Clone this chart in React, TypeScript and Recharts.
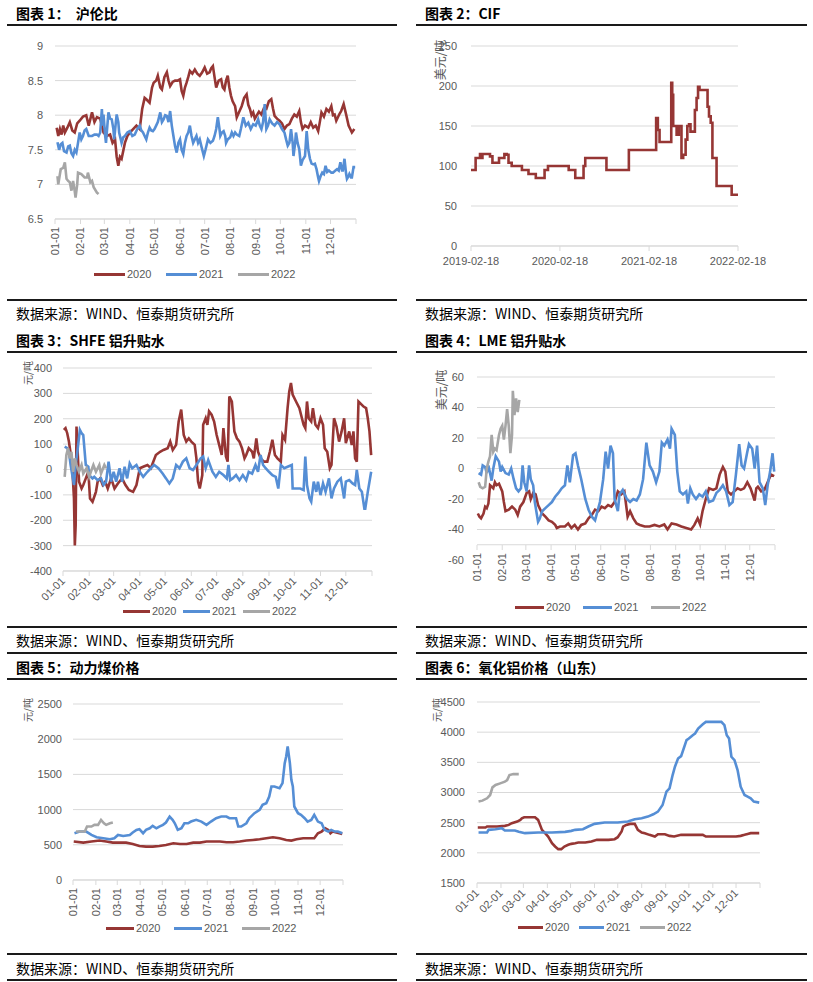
import { LineChart, Line, XAxis, YAxis, CartesianGrid, ReferenceLine } from "recharts";

type Pt = [number, number];

const RED = "#963634";
const BLUE = "#558ED5";
const GREY = "#A6A6A6";
const GRID = "#D9D9D9";
const TICK = "#595959";
const CJK = '"Noto Sans CJK SC", "Noto Sans", sans-serif';
const LATIN = '"Liberation Sans", Arial, sans-serif';

// x axis: day of year, month starts (leap year layout)
const monthTicks = [0, 31, 60, 91, 121, 152, 182, 213, 244, 274, 305, 335, 366];
const monthLabels = ["01-01", "02-01", "03-01", "04-01", "05-01", "06-01", "07-01", "08-01", "09-01", "10-01", "11-01", "12-01", ""];
const yearNames = ["2020", "2021", "2022"];

// chart 1: SHFE / LME ratio
const ratio2020: Pt[] = [[2,7.82],[4,7.7],[6,7.8],[8,7.72],[10,7.85],[12,7.75],[15,7.82],[18,7.9],[21,7.78],[24,7.75],[27,7.88],[30,7.92],[34,7.98],[38,8.0],[41,7.85],[45,8.04],[48,7.9],[51,7.97],[55,7.95],[59,7.75],[63,7.7],[67,7.72],[70,7.6],[73,7.65],[75,7.4],[77,7.27],[79,7.4],[81,7.37],[85,7.6],[88,7.7],[91,7.75],[95,7.8],[99,7.85],[103,7.8],[106,8.09],[109,8.25],[111,8.23],[115,8.18],[118,8.4],[120,8.47],[123,8.5],[125,8.57],[128,8.4],[130,8.37],[133,8.55],[136,8.62],[138,8.5],[140,8.42],[143,8.48],[146,8.5],[149,8.5],[152,8.52],[154,8.35],[156,8.28],[158,8.4],[160,8.47],[162,8.55],[164,8.64],[167,8.6],[170,8.66],[173,8.6],[176,8.57],[179,8.62],[182,8.69],[185,8.6],[188,8.62],[190,8.68],[192,8.71],[194,8.55],[196,8.4],[199,8.5],[202,8.52],[204,8.4],[206,8.37],[208,8.5],[210,8.57],[212,8.4],[214,8.28],[216,8.2],[219,8.13],[221,7.97],[224,8.05],[227,8.13],[230,8.25],[233,8.3],[235,8.15],[237,8.09],[239,8.0],[241,8.04],[243,7.95],[245,7.99],[248,8.05],[251,8.01],[254,8.1],[257,8.09],[260,8.2],[263,8.23],[265,8.1],[267,7.99],[270,7.95],[273,7.92],[276,7.88],[279,7.8],[282,7.85],[285,7.87],[288,7.95],[291,8.01],[294,7.98],[297,8.06],[299,7.9],[301,7.8],[304,7.85],[308,7.82],[311,7.9],[314,7.82],[317,7.85],[320,7.77],[322,7.9],[324,8.04],[327,7.98],[330,8.09],[333,8.05],[336,8.13],[338,8.0],[340,8.01],[342,7.92],[344,7.97],[346,8.02],[348,8.06],[351,8.16],[354,8.01],[357,7.85],[359,7.8],[361,7.75],[364,7.8]];
const ratio2021: Pt[] = [[3,7.61],[5,7.5],[7,7.58],[9,7.6],[11,7.48],[14,7.46],[16,7.55],[18,7.56],[20,7.45],[22,7.41],[24,7.5],[26,7.46],[28,7.6],[30,7.75],[32,7.65],[34,7.7],[36,7.78],[38,7.8],[41,7.7],[45,7.7],[48,7.72],[51,7.72],[53,7.7],[55,7.75],[57,8.09],[58,7.85],[59,8.01],[61,7.7],[62,7.6],[64,7.9],[65,8.04],[67,7.95],[69,7.94],[71,7.8],[72,7.65],[74,7.9],[75,8.01],[77,7.9],[78,7.75],[80,7.65],[81,7.6],[83,7.68],[85,7.7],[88,7.75],[91,7.77],[94,7.7],[97,7.72],[100,7.8],[103,7.85],[105,7.78],[107,7.75],[109,7.7],[111,7.65],[113,7.75],[115,7.82],[117,7.78],[119,7.77],[121,7.8],[123,7.85],[125,7.9],[128,8.04],[130,7.9],[132,7.94],[134,8.0],[136,7.99],[138,7.9],[140,8.06],[142,7.85],[144,7.7],[146,7.55],[148,7.46],[150,7.6],[152,7.65],[154,7.5],[156,7.44],[158,7.6],[160,7.7],[162,7.75],[164,7.85],[166,7.7],[168,7.6],[170,7.65],[172,7.7],[174,7.6],[176,7.65],[178,7.55],[181,7.41],[183,7.5],[186,7.65],[189,7.6],[192,7.63],[194,7.7],[196,7.8],[198,7.97],[200,7.8],[201,7.7],[203,7.75],[205,7.77],[207,7.7],[208,7.6],[210,7.65],[213,7.68],[215,7.75],[217,7.7],[219,7.75],[221,7.72],[224,7.7],[226,7.8],[229,7.97],[232,7.85],[235,7.89],[238,7.8],[241,7.87],[244,7.85],[247,7.94],[249,7.85],[251,7.8],[253,7.9],[255,8.16],[257,7.8],[259,7.85],[261,7.94],[264,7.88],[267,7.85],[270,7.9],[273,7.87],[276,7.8],[279,7.75],[281,7.65],[283,7.56],[285,7.6],[287,7.8],[289,7.6],[290,7.41],[292,7.6],[293,7.75],[295,7.6],[297,7.51],[299,7.27],[301,7.35],[304,7.41],[306,7.77],[308,7.5],[310,7.37],[312,7.3],[314,7.29],[316,7.3],[318,7.22],[320,7.1],[321,7.05],[323,7.12],[325,7.17],[327,7.15],[329,7.27],[331,7.18],[333,7.2],[336,7.17],[338,7.17],[341,7.2],[343,7.22],[345,7.2],[347,7.32],[349,7.2],[350,7.2],[352,7.37],[354,7.15],[355,7.08],[357,7.12],[358,7.15],[360,7.1],[361,7.1],[363,7.25],[365,7.25]];
const ratio2022: Pt[] = [[3,7.12],[4,7.0],[6,7.15],[7,7.22],[10,7.24],[12,7.32],[14,7.08],[16,7.05],[18,7.03],[20,6.91],[22,7.05],[24,6.9],[25,6.81],[27,7.0],[28,7.17],[32,7.15],[36,7.1],[39,7.1],[40,7.17],[43,7.03],[45,7.05],[47,6.96],[51,6.88],[53,6.86]];
const ratioTicks = [6.5, 7, 7.5, 8, 8.5, 9];

// chart 2: CIF premium, days since 2019-02-18
const cifPrice: Pt[] = [[0,95],[16,95],[19,110],[30,110],[37,115],[42,110],[47,115],[58,115],[78,112],[88,104],[106,104],[115,110],[126,110],[137,115],[147,114],[154,104],[167,100],[202,100],[209,95],[229,95],[236,90],[261,90],[266,85],[294,85],[302,95],[316,100],[398,100],[401,95],[421,95],[428,85],[456,85],[462,100],[469,110],[552,110],[556,95],[645,95],[648,120],[757,120],[760,160],[767,145],[774,130],[819,130],[822,204],[826,189],[830,150],[837,150],[844,139],[853,150],[860,150],[864,110],[871,114],[881,133],[888,150],[895,152],[901,143],[911,143],[919,170],[926,185],[932,199],[938,195],[967,195],[971,174],[977,162],[984,154],[991,110],[1007,110],[1008,75],[1066,75],[1070,64],[1096,64]];
const cifTicks = [0, 365, 731, 1096];
const cifLabels = ["2019-02-18", "2020-02-18", "2021-02-18", "2022-02-18"];
const cifYTicks = [0, 50, 100, 150, 200, 250];

// chart 3: SHFE premium
const shfe2020: Pt[] = [[1,156],[3,163],[5,143],[7,110],[9,64],[11,5],[13,-114],[14,-299],[15,-220],[16,169],[17,97],[19,-48],[22,-75],[24,-61],[27,-35],[30,-9],[32,-114],[35,-127],[39,-88],[41,-48],[44,-35],[47,-61],[50,-48],[53,-75],[57,-35],[61,-75],[65,-55],[70,-35],[74,-61],[78,-81],[83,-88],[87,-61],[91,5],[95,11],[100,18],[104,5],[110,57],[115,70],[119,77],[124,84],[127,110],[130,77],[134,97],[137,189],[140,236],[143,136],[146,110],[149,123],[152,110],[156,97],[158,44],[160,-48],[162,-75],[165,-22],[166,176],[169,202],[171,176],[173,229],[176,216],[179,189],[182,136],[185,97],[188,57],[190,163],[193,51],[195,31],[197,288],[200,268],[203,150],[206,123],[209,110],[212,84],[215,44],[217,57],[220,84],[224,70],[226,44],[229,123],[231,70],[234,44],[238,31],[242,31],[245,70],[248,117],[251,57],[254,44],[258,31],[260,136],[263,117],[266,242],[268,308],[270,341],[272,295],[276,268],[280,242],[283,202],[285,176],[287,163],[289,268],[291,202],[294,189],[296,242],[299,176],[302,163],[305,202],[308,176],[310,84],[313,70],[316,5],[318,18],[321,202],[324,169],[327,110],[330,150],[333,202],[335,104],[339,150],[342,97],[344,150],[346,44],[348,31],[350,268],[354,255],[356,248],[359,242],[361,202],[363,150],[365,57]];
const shfe2021: Pt[] = [[2,90],[5,84],[7,70],[9,18],[11,-22],[13,-61],[15,18],[17,70],[20,156],[22,143],[24,136],[27,18],[30,11],[31,-22],[35,-35],[37,-29],[41,-42],[45,-35],[48,-61],[51,-48],[54,31],[57,-48],[60,-9],[63,-48],[67,5],[70,-48],[73,11],[76,-35],[79,24],[82,5],[87,18],[91,-9],[95,-29],[100,-9],[104,5],[108,18],[113,5],[118,-16],[122,-35],[126,-55],[130,-35],[134,18],[138,5],[142,31],[146,44],[150,5],[154,-2],[158,18],[163,44],[166,51],[169,5],[172,37],[177,-9],[181,-29],[185,-9],[190,-22],[194,-35],[196,18],[198,-42],[201,-35],[205,-22],[209,-42],[213,-22],[217,-42],[220,-9],[224,-16],[228,18],[231,-9],[234,57],[237,18],[240,5],[244,-9],[248,-22],[252,-29],[255,-75],[258,18],[262,5],[266,11],[271,18],[272,-75],[278,-75],[281,-75],[285,-81],[287,51],[289,-61],[292,-114],[294,-127],[297,-48],[300,-88],[302,-48],[305,-101],[308,-55],[311,-88],[315,-35],[318,-114],[321,-75],[325,-48],[329,-35],[333,-114],[335,-48],[339,-42],[343,-55],[346,-61],[348,-2],[351,-75],[354,-88],[357,-154],[358,-154],[361,-88],[365,-9]];
const shfe2022: Pt[] = [[2,-29],[4,57],[6,84],[8,44],[10,70],[12,-9],[14,44],[16,18],[19,-9],[22,18],[24,-16],[28,5],[31,-29],[33,-9],[36,18],[39,-9],[43,18],[45,-16],[49,18],[51,5]];
const shfeTicks = [-400, -300, -200, -100, 0, 100, 200, 300, 400];

// chart 4: LME premium
const lme2020: Pt[] = [[1,-29.5],[3,-31.6],[5,-32.7],[8,-29.5],[10,-25],[12,-26],[14,-23],[16,-11],[18,-12],[20,-13],[22,-9],[24,-11],[27,-10],[31,-15],[33,-22],[35,-28],[39,-27],[43,-25],[47,-27],[50,-30.5],[53,-25],[57,-22],[61,-16],[64,-15],[66,-20],[69,-16],[72,-17],[75,-24],[80,-29.5],[84,-31.6],[88,-34],[92,-35],[96,-37],[98,-39],[102,-38],[108,-38],[112,-36],[116,-39],[120,-37],[124,-40],[128,-37],[133,-36],[137,-32.7],[141,-30.5],[145,-27],[149,-28],[153,-25],[157,-26],[161,-24],[165,-25],[169,-22],[173,-15],[177,-17],[181,-15],[185,-31.6],[188,-28],[192,-32.7],[196,-36],[200,-37],[206,-38],[212,-38],[218,-37],[224,-38],[230,-36.7],[234,-40],[239,-36],[245,-36.7],[251,-38],[257,-39],[263,-40],[267,-37],[271,-32.7],[274,-36.7],[277,-28],[281,-20],[285,-13],[290,-14],[294,-13],[298,-4],[302,1],[305,-2],[308,-15],[312,-17],[316,-15],[320,-13],[324,-14],[328,-13],[332,-9],[336,-13],[341,-21],[343,-13],[345,-12],[349,-15],[353,-14],[357,-9],[361,-4],[365,-5]];
const lme2021: Pt[] = [[2,-3],[5,-4],[7,2],[10,1],[12,-3],[14,2],[18,-8],[20,0],[23,8],[27,4.5],[29,-2],[31,1],[35,-3],[39,-4],[42,0],[45,-7],[48,-13],[51,-15],[54,-13],[56,2],[58,-9],[61,-15],[64,2],[66,-7],[69,-11],[71,-22],[75,-35],[77,-33],[80,-28],[84,-26],[88,-24],[92,-22],[96,-18.5],[100,-16],[104,-13],[108,-11],[111,2],[114,-9],[118,8.7],[121,10],[124,2],[128,-7],[133,-20],[137,-27],[141,-31.6],[145,-34],[148,-28],[151,-22],[155,-7],[158,11],[161,0],[164,15],[167,10],[169,-20],[173,-28],[175,-17],[179,-14],[184,-20],[188,-22],[192,-20],[196,-21],[200,-17],[204,-7],[208,17],[212,2],[216,-2],[220,-9],[224,-2],[227,17],[230,15],[234,19],[237,13],[239,26],[243,22],[246,-2],[249,-15],[253,-17],[257,-15],[259,-23],[262,-13],[265,-17],[269,-20],[273,-17],[277,-18.5],[281,-15],[285,-22],[290,-21],[294,-16],[298,-14],[302,-11],[306,-15],[310,-24],[314,-22],[318,-4],[322,16],[325,2],[328,0],[332,11],[334,16],[338,13],[341,0],[344,15],[347,-9],[351,-13],[354,-24],[357,-11],[360,-2],[363,10],[365,-2]];
const lme2022: Pt[] = [[2,-9],[4,-12],[7,-13],[10,-12],[12,0],[14,4.5],[16,8],[18,22],[20,11],[22,13],[24,12],[27,22],[29,26],[31,28],[33,19],[35,28],[37,39],[39,28],[41,10],[43,22],[44,51],[46,35],[48,46],[50,37],[52,45]];
const lmeTicks = [-60, -40, -20, 0, 20, 40, 60];
const lmeGrid = [-40, -20, 0, 20, 40, 60];
const lmeAxisAt = -50;

// chart 5: thermal coal
const coal2020: Pt[] = [[1,546],[14,531],[25,546],[36,560],[45,546],[54,531],[72,531],[81,512],[90,484],[99,474],[108,474],[117,484],[126,498],[136,522],[145,512],[154,512],[163,531],[172,531],[181,546],[190,546],[199,546],[208,536],[217,536],[226,546],[235,560],[244,569],[253,579],[262,593],[271,607],[280,593],[289,569],[296,560],[303,579],[312,593],[321,593],[327,593],[332,664],[337,688],[342,735],[346,712],[349,664],[352,688],[357,674],[365,655]];
const coal2021: Pt[] = [[2,664],[9,688],[18,688],[25,640],[32,607],[41,593],[50,579],[56,593],[61,640],[68,626],[77,640],[81,674],[86,712],[90,721],[95,664],[99,712],[104,735],[108,769],[113,735],[117,759],[122,783],[126,816],[131,901],[135,854],[138,806],[142,712],[147,735],[151,806],[156,806],[160,830],[167,854],[174,830],[181,783],[187,830],[194,878],[201,901],[208,901],[212,878],[217,878],[221,878],[224,759],[228,759],[235,806],[239,878],[246,949],[253,996],[257,1067],[262,1091],[266,1186],[269,1328],[273,1328],[280,1305],[284,1376],[287,1660],[289,1755],[291,1898],[294,1660],[296,1423],[298,1328],[300,1044],[305,949],[309,925],[314,878],[318,830],[323,854],[327,925],[332,830],[337,806],[341,712],[346,688],[350,712],[355,688],[359,688],[365,664]];
const coal2022: Pt[] = [[4,688],[9,688],[16,688],[19,759],[25,759],[29,783],[34,783],[38,854],[42,806],[45,783],[50,806],[54,816]];
const coalTicks = [0, 500, 1000, 1500, 2000, 2500];

// chart 6: alumina (Shandong)
const alumina2020: Pt[] = [[1,2419],[11,2419],[13,2436],[19,2436],[26,2436],[36,2447],[41,2463],[45,2491],[52,2518],[56,2546],[58,2573],[61,2590],[75,2590],[79,2546],[84,2381],[88,2326],[92,2270],[97,2160],[101,2105],[105,2061],[109,2061],[113,2105],[118,2133],[122,2149],[127,2160],[131,2171],[140,2171],[148,2188],[155,2215],[161,2215],[170,2215],[178,2226],[182,2259],[187,2353],[189,2436],[193,2463],[198,2480],[204,2480],[208,2381],[213,2337],[217,2326],[223,2298],[230,2270],[234,2309],[243,2309],[249,2281],[255,2270],[264,2298],[273,2298],[281,2298],[292,2298],[296,2270],[316,2270],[335,2270],[341,2281],[346,2298],[350,2314],[354,2326],[365,2326]];
const alumina2021: Pt[] = [[2,2337],[13,2337],[15,2381],[24,2392],[32,2408],[36,2370],[49,2370],[54,2348],[62,2326],[79,2337],[97,2337],[114,2348],[122,2364],[127,2381],[137,2392],[144,2436],[152,2480],[165,2502],[182,2502],[195,2518],[204,2557],[213,2573],[221,2601],[228,2639],[234,2683],[240,2793],[245,3014],[249,3069],[253,3289],[256,3427],[260,3564],[264,3603],[271,3867],[274,3894],[279,3950],[282,3977],[286,4060],[292,4131],[296,4170],[316,4170],[320,4115],[323,3950],[326,3894],[329,3592],[333,3537],[337,3372],[341,3096],[346,2959],[350,2931],[354,2904],[358,2849],[365,2832]];
const alumina2022: Pt[] = [[2,2849],[7,2865],[13,2904],[17,2959],[20,3085],[24,3124],[30,3151],[36,3179],[39,3206],[42,3289],[47,3305],[54,3305]];
const aluminaTicks = [1500, 2000, 2500, 3000, 3500, 4000, 4500];

const SOURCE = "数据来源：WIND、恒泰期货研究所";

type Box = { left: number; top: number; width: number; height: number };
type Plot = { l: number; t: number; r: number; b: number };

const rows = (pts: Pt[]) => pts.map(([d, v]) => ({ d, v }));

function MonthTick(props: any) {
  const { x, y, payload, angle, lift } = props;
  const i = monthTicks.indexOf(payload.value);
  const label = i >= 0 ? monthLabels[i] : "";
  const ay = lift ? y - lift : y;
  const ty = lift ? ay + 8 : y;
  return (
    <g>
      {lift ? <line x1={x} x2={x} y1={ay} y2={ay + 5} stroke={GRID} /> : null}
      <text
        x={x}
        y={ty}
        dy="0.35em"
        textAnchor="end"
        transform={`rotate(${angle} ${x} ${ty})`}
        fontSize={11}
        fontFamily={LATIN}
        fill={TICK}
      >
        {label}
      </text>
    </g>
  );
}

function YearChart(props: {
  box: Box;
  plot: Plot;
  yDomain: [number, number];
  yTicks: number[];
  yGap: number;
  angle: number;
  data: Pt[][];
  lift?: number;
  gridValues?: number[];
  axisAt?: number;
}) {
  const { box, plot, yDomain, yTicks, yGap, angle, data, lift = 0, gridValues, axisAt } = props;
  const colors = [RED, BLUE, GREY];
  return (
    <div style={{ position: "absolute", left: box.left, top: box.top }}>
      <LineChart
        width={box.width}
        height={box.height}
        margin={{ top: plot.t - box.top, right: box.left + box.width - plot.r, bottom: 0, left: 0 }}
      >
        <CartesianGrid vertical={false} stroke={GRID} horizontalValues={gridValues} />
        <XAxis
          type="number"
          dataKey="d"
          domain={[0, 366]}
          ticks={monthTicks}
          interval={0}
          height={box.top + box.height - plot.b}
          axisLine={lift ? false : { stroke: GRID }}
          tickLine={lift ? false : { stroke: GRID }}
          tickSize={lift ? 0 : 5}
          tickMargin={lift ? 0 : 3}
          tick={(p: any) => <MonthTick {...p} angle={angle} lift={lift} />}
        />
        <YAxis
          type="number"
          domain={yDomain}
          ticks={yTicks}
          interval={0}
          width={plot.l - box.left}
          axisLine={false}
          tickLine={false}
          tickSize={0}
          tickMargin={yGap}
          tick={{ fontSize: 11, fill: TICK, fontFamily: LATIN }}
        />
        {axisAt !== undefined ? <ReferenceLine y={axisAt} stroke={GRID} strokeWidth={1} /> : null}
        {data.map((pts, i) => (
          <Line
            key={yearNames[i]}
            data={rows(pts)}
            dataKey="v"
            name={yearNames[i]}
            stroke={colors[i]}
            strokeWidth={2.6}
            dot={false}
            isAnimationActive={false}
          />
        ))}
      </LineChart>
    </div>
  );
}

function CifChart() {
  const box = { left: 410, top: 30, width: 390, height: 245 };
  const plot = { l: 471, t: 46, r: 738, b: 246 };
  return (
    <div style={{ position: "absolute", left: box.left, top: box.top }}>
      <LineChart
        width={box.width}
        height={box.height}
        margin={{ top: plot.t - box.top, right: box.left + box.width - plot.r, bottom: 0, left: 0 }}
      >
        <CartesianGrid vertical={false} stroke={GRID} />
        <XAxis
          type="number"
          dataKey="d"
          domain={[0, 1096]}
          ticks={cifTicks}
          interval={0}
          height={box.top + box.height - plot.b}
          axisLine={{ stroke: GRID }}
          tickLine={{ stroke: GRID }}
          tickSize={5}
          tickMargin={6}
          tickFormatter={(v: number) => cifLabels[cifTicks.indexOf(v)] ?? ""}
          tick={{ fontSize: 11, fill: TICK, fontFamily: LATIN }}
        />
        <YAxis
          type="number"
          domain={[0, 250]}
          ticks={cifYTicks}
          interval={0}
          width={plot.l - box.left}
          axisLine={false}
          tickLine={false}
          tickSize={0}
          tickMargin={14}
          tick={{ fontSize: 11, fill: TICK, fontFamily: LATIN }}
        />
        <Line
          data={rows(cifPrice)}
          dataKey="v"
          type="stepAfter"
          stroke={RED}
          strokeWidth={2.6}
          dot={false}
          isAnimationActive={false}
        />
      </LineChart>
    </div>
  );
}

function YearLegend({ x, y, swatch, pitch }: { x: number; y: number; swatch: number; pitch: number }) {
  const colors = [RED, BLUE, GREY];
  return (
    <>
      {yearNames.map((n, i) => (
        <div key={n} style={{ position: "absolute", left: x + i * pitch, top: y - 7, height: 14, display: "flex", alignItems: "center" }}>
          <div style={{ width: swatch, height: 3, background: colors[i] }} />
          <span style={{ marginLeft: 2, fontSize: 11, color: TICK, fontFamily: LATIN, lineHeight: "14px" }}>{n}</span>
        </div>
      ))}
    </>
  );
}

function Unit({ x, y, text, size }: { x: number; y: number; text: string; size: number }) {
  return (
    <div
      style={{
        position: "absolute",
        left: x,
        top: y,
        transform: "translate(-50%, -50%) rotate(-90deg)",
        whiteSpace: "nowrap",
        fontSize: size,
        color: TICK,
        fontFamily: CJK,
        lineHeight: 1,
      }}
    >
      {text}
    </div>
  );
}

function Rule({ x0, x1, y }: { x0: number; x1: number; y: number }) {
  return <div style={{ position: "absolute", left: x0, top: y - 1, width: x1 - x0, height: 2, background: "#1a1a1a" }} />;
}

function Frame(props: { col: number; title: string; titleY: number; underY: number; srcLineY: number; srcY: number; lastY?: number }) {
  const { col, title, titleY, underY, srcLineY, srcY, lastY } = props;
  const x0 = col === 0 ? 7 : 416;
  const x1 = col === 0 ? 397 : 807;
  const tx = col === 0 ? 16 : 425;
  return (
    <>
      <div style={{ position: "absolute", left: tx, top: titleY - 10, lineHeight: "20px", fontSize: 14, fontWeight: 700, fontFamily: CJK, whiteSpace: "pre", color: "#000" }}>
        {title}
      </div>
      <Rule x0={x0} x1={x1} y={underY} />
      <Rule x0={x0} x1={x1} y={srcLineY} />
      <div style={{ position: "absolute", left: tx, top: srcY - 10, lineHeight: "20px", fontSize: 14, fontFamily: CJK, whiteSpace: "pre", color: "#000" }}>
        {SOURCE}
      </div>
      {lastY !== undefined ? <Rule x0={x0} x1={x1} y={lastY} /> : null}
    </>
  );
}

export default function App() {
  return (
    <div style={{ position: "absolute", left: 0, top: 0, width: 813, height: 982, background: "#fff", overflow: "hidden" }}>
      <Frame col={0} title="图表 1：  沪伦比" titleY={13} underY={25} srcLineY={300} srcY={313} />
      <Frame col={1} title="图表 2：CIF" titleY={13} underY={25} srcLineY={300} srcY={313} />
      <Frame col={0} title="图表 3：SHFE 铝升贴水" titleY={340} underY={352} srcLineY={627} srcY={640} lastY={653} />
      <Frame col={1} title="图表 4：LME 铝升贴水" titleY={340} underY={352} srcLineY={627} srcY={640} lastY={653} />
      <Frame col={0} title="图表 5：动力煤价格" titleY={667} underY={679} srcLineY={954} srcY={968} lastY={980} />
      <Frame col={1} title="图表 6：氧化铝价格（山东）" titleY={667} underY={679} srcLineY={954} srcY={968} lastY={980} />

      <YearChart
        box={{ left: 0, top: 30, width: 400, height: 240 }}
        plot={{ l: 55, t: 46, r: 356, b: 219 }}
        yDomain={[6.5, 9]}
        yTicks={ratioTicks}
        yGap={12}
        angle={-90}
        data={[ratio2020, ratio2021, ratio2022]}
      />
      <YearLegend x={94} y={274} swatch={31} pitch={72} />

      <CifChart />
      <Unit x={440} y={60} text="美元/吨" size={12} />

      <YearChart
        box={{ left: 0, top: 356, width: 400, height: 250 }}
        plot={{ l: 63, t: 368, r: 372, b: 571 }}
        yDomain={[-400, 400]}
        yTicks={shfeTicks}
        yGap={11}
        angle={-45}
        data={[shfe2020, shfe2021, shfe2022]}
      />
      <Unit x={28} y={373} text="元/吨" size={10} />
      <YearLegend x={123} y={611} swatch={27} pitch={60} />

      <YearChart
        box={{ left: 410, top: 356, width: 390, height: 250 }}
        plot={{ l: 477, t: 377, r: 775, b: 560 }}
        yDomain={[-60, 60]}
        yTicks={lmeTicks}
        yGap={13}
        angle={-90}
        lift={15}
        gridValues={lmeGrid}
        axisAt={lmeAxisAt}
        data={[lme2020, lme2021, lme2022]}
      />
      <Unit x={441} y={390} text="美元/吨" size={12} />
      <YearLegend x={515} y={607} swatch={29} pitch={68} />

      <YearChart
        box={{ left: 0, top: 690, width: 400, height: 235 }}
        plot={{ l: 73, t: 704, r: 343, b: 880 }}
        yDomain={[0, 2500]}
        yTicks={coalTicks}
        yGap={11}
        angle={-90}
        data={[coal2020, coal2021, coal2022]}
      />
      <Unit x={28} y={710} text="元/吨" size={10} />
      <YearLegend x={106} y={928} swatch={28} pitch={68} />

      <YearChart
        box={{ left: 410, top: 690, width: 380, height: 235 }}
        plot={{ l: 477, t: 702, r: 760, b: 883 }}
        yDomain={[1500, 4500]}
        yTicks={aluminaTicks}
        yGap={12}
        angle={-45}
        data={[alumina2020, alumina2021, alumina2022]}
      />
      <Unit x={437} y={710} text="元/吨" size={10} />
      <YearLegend x={518} y={927} swatch={25} pitch={61} />
    </div>
  );
}
